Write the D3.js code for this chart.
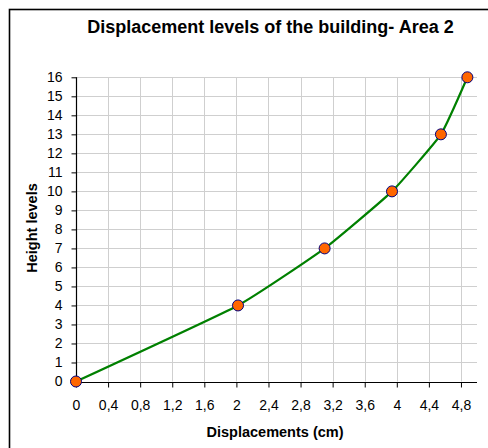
<!DOCTYPE html>
<html>
<head>
<meta charset="utf-8">
<script src="https://cdn.jsdelivr.net/npm/d3@7"></script>
<style>
  body { margin: 0; background: #fff; }
  svg { display: block; font-family: Arial, "Liberation Sans", sans-serif; }
</style>
</head>
<body>
<div id="chart"></div>
<script>
// ---------------- data ----------------
const displacements = [0, 2.02, 3.1, 3.94, 4.55, 4.88];
const heightLevels = [0, 4, 7, 10, 13, 16];
const xTicks = [0, 0.4, 0.8, 1.2, 1.6, 2, 2.4, 2.8, 3.2, 3.6, 4, 4.4, 4.8];
const yTicks = d3.range(0, 17);
const titleText = "Displacement levels of the building- Area 2";
const xTitle = "Displacements (cm)";
const yTitle = "Height levels";

// ---------------- layout ----------------
const width = 488, height = 448;
const svg = d3.select("#chart").append("svg")
  .attr("width", width)
  .attr("height", height);

// outer chart frame (runs off the right/bottom edges like the source)
svg.append("rect")
  .attr("x", 9.5).attr("y", 9.5)
  .attr("width", 520).attr("height", 480)
  .attr("fill", "none")
  .attr("stroke", "#000")
  .attr("stroke-width", 1.6);

const x = d3.scaleLinear().domain([0, 5]).range([76, 477]);
const y = d3.scaleLinear().domain([0, 16]).range([381.5, 77.3]);

// ---------------- grid ----------------
const grid = svg.append("g").attr("stroke", "#cfcfcf").attr("stroke-width", 1);
grid.selectAll("line.v")
  .data(xTicks.slice(1))
  .join("line")
  .attr("x1", d => Math.round(x(d)) + 0.5)
  .attr("x2", d => Math.round(x(d)) + 0.5)
  .attr("y1", y(16)).attr("y2", y(0));
grid.selectAll("line.h")
  .data(yTicks.slice(1))
  .join("line")
  .attr("x1", x(0)).attr("x2", x(5))
  .attr("y1", d => Math.round(y(d)) + 0.5)
  .attr("y2", d => Math.round(y(d)) + 0.5);

// ---------------- axes ----------------
const xAxis = d3.axisBottom(x)
  .tickValues(xTicks)
  .tickSize(5)
  .tickPadding(13)
  .tickFormat(d => String(d).replace(".", ","));
const yAxis = d3.axisLeft(y)
  .tickValues(yTicks)
  .tickSize(5)
  .tickPadding(9)
  .tickFormat(d3.format("d"));

const gx = svg.append("g")
  .attr("transform", `translate(0,${Math.round(y(0)) + 0.5})`)
  .call(xAxis);
const gy = svg.append("g")
  .attr("transform", `translate(${Math.round(x(0)) + 0.5},0)`)
  .call(yAxis);

[gx, gy].forEach(g => {
  g.select(".domain").attr("stroke", "#000").attr("stroke-width", 1.2);
  g.selectAll(".tick line").attr("stroke", "#000");
  g.selectAll(".tick text")
    .attr("fill", "#000")
    .style("font-size", "14px")
    .style("font-family", "Arial, 'Liberation Sans', sans-serif");
});
gx.select(".domain").attr("d", `M${x(0)},0H${x(5)}`);
gy.select(".domain").attr("d", `M0,${y(0)}V${y(16)}`);

// ---------------- series ----------------
const points = displacements.map((d, i) => ({ dx: d, h: heightLevels[i] }));

const line = d3.line()
  .x(d => x(d.dx))
  .y(d => y(d.h))
  .curve(d3.curveCardinal.tension(0.6));

svg.append("path")
  .datum(points)
  .attr("fill", "none")
  .attr("stroke", "#008000")
  .attr("stroke-width", 2.2)
  .attr("d", line);

svg.selectAll("circle.pt")
  .data(points)
  .join("circle")
  .attr("class", "pt")
  .attr("cx", d => x(d.dx))
  .attr("cy", d => y(d.h))
  .attr("r", 5.5)
  .attr("fill", "#ff6600")
  .attr("stroke", "#000080")
  .attr("stroke-width", 1);

// ---------------- titles ----------------
svg.append("text")
  .attr("x", 270.5).attr("y", 33)
  .attr("text-anchor", "middle")
  .style("font-size", "18px")
  .style("font-weight", "bold")
  .text(titleText);

svg.append("text")
  .attr("x", 275).attr("y", 437)
  .attr("text-anchor", "middle")
  .style("font-size", "14.5px")
  .style("font-weight", "bold")
  .text(xTitle);

svg.append("text")
  .attr("transform", "translate(37,228) rotate(-90)")
  .attr("text-anchor", "middle")
  .style("font-size", "14.5px")
  .style("font-weight", "bold")
  .text(yTitle);
</script>
</body>
</html>
